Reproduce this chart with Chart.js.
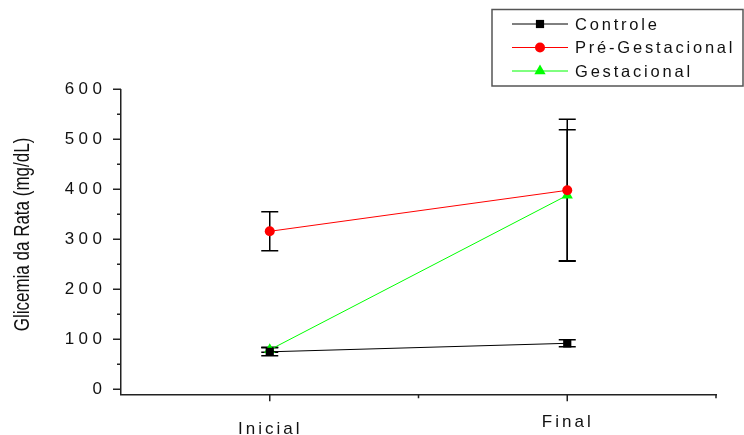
<!DOCTYPE html>
<html>
<head>
<meta charset="utf-8">
<script src="https://cdn.jsdelivr.net/npm/chart.js@4.4.1/dist/chart.umd.min.js"></script>
<style>
  body { margin: 0; background: #fff; }
  canvas { display: block; }
</style>
</head>
<body>
<canvas id="glicemiaChart" width="744" height="435"></canvas>
<script>
// dados
const categorias = ['Inicial', 'Final'];
const controle = [75, 92];
const controleErro = [8, 7];
const preGestacional = [316, 398];
const preGestacionalErro = [39, 142];
const gestacional = [79, 388];
const gestacionalErro = [5, 131];
const yTicks = [0, 100, 200, 300, 400, 500, 600];
const yTitulo = 'Glicemia da Rata (mg/dL)';

const fonte = '"Liberation Sans", Arial, sans-serif';
const erros = [controleErro, preGestacionalErro, gestacionalErro];

function pontos(valores) {
  return valores.map((v, i) => ({ x: i + 1, y: v }));
}

const estiloOrigin = {
  id: 'estiloOrigin',
  beforeDraw(chart) {
    // espaco entre letras dos numeros do eixo y
    chart.ctx.letterSpacing = '4.5px';
  },
  beforeDatasetsDraw(chart) {
    const ctx = chart.ctx;
    const xs = chart.scales.x, ys = chart.scales.y;
    ctx.save();
    ctx.strokeStyle = '#000';
    ctx.lineWidth = 1.5;
    chart.data.datasets.forEach((ds, i) => {
      ds.data.forEach((p, j) => {
        const e = erros[i][j];
        const x = xs.getPixelForValue(p.x);
        const yt = ys.getPixelForValue(p.y + e);
        const yb = ys.getPixelForValue(p.y - e);
        ctx.beginPath();
        ctx.moveTo(x, yt); ctx.lineTo(x, yb);
        ctx.moveTo(x - 8.5, yt); ctx.lineTo(x + 8.5, yt);
        ctx.moveTo(x - 8.5, yb); ctx.lineTo(x + 8.5, yb);
        ctx.stroke();
      });
    });
    ctx.restore();
  },
  afterDraw(chart) {
    const ctx = chart.ctx;
    const xs = chart.scales.x, ys = chart.scales.y;
    const area = chart.chartArea;
    ctx.save();
    ctx.strokeStyle = '#222';
    ctx.lineWidth = 1.5;

    // marcas do eixo y
    ctx.beginPath();
    for (let v = 0; v <= 600; v += 50) {
      const y = ys.getPixelForValue(v);
      const len = v % 100 === 0 ? 8 : 4;
      ctx.moveTo(area.left - len, y); ctx.lineTo(area.left, y);
    }
    // marcas do eixo x
    for (let v = 1; v <= 2.5; v += 0.5) {
      const x = xs.getPixelForValue(v);
      const len = v % 1 === 0 ? 7 : 4;
      ctx.moveTo(x, area.bottom); ctx.lineTo(x, area.bottom + len);
    }
    ctx.stroke();

    // rotulos do eixo x
    ctx.fillStyle = '#111';
    ctx.font = '17px ' + fonte;
    ctx.letterSpacing = '3px';
    ctx.textAlign = 'center';
    ctx.textBaseline = 'alphabetic';
    const baseY = [433.5, 427];
    categorias.forEach((c, i) => {
      ctx.fillText(c, xs.getPixelForValue(i + 1) + 0.5, baseY[i]);
    });

    // titulo do eixo y (esticado como no original)
    ctx.save();
    ctx.letterSpacing = '0px';
    ctx.translate(28.5, 234.5);
    ctx.rotate(-Math.PI / 2);
    ctx.scale(1, 1.3);
    ctx.fillText(yTitulo, 0, 0);
    ctx.restore();

    // legenda
    ctx.strokeStyle = '#555';
    ctx.lineWidth = 1.5;
    ctx.strokeRect(492, 9.5, 251, 76.5);
    const linhas = [24, 47.5, 71];
    ctx.font = '16.5px ' + fonte;
    ctx.letterSpacing = '2.8px';
    ctx.textAlign = 'left';
    ctx.textBaseline = 'middle';
    chart.data.datasets.forEach((ds, i) => {
      const y = linhas[i];
      ctx.strokeStyle = ds.borderColor;
      ctx.lineWidth = 1;
      ctx.beginPath();
      ctx.moveTo(512, y); ctx.lineTo(568, y);
      ctx.stroke();
      ctx.fillStyle = ds.backgroundColor;
      Chart.helpers.drawPoint(ctx, {
        pointStyle: ds.pointStyle, radius: ds.pointRadius, rotation: 0, borderWidth: 0
      }, 540, y);
      ctx.fillStyle = '#111';
      ctx.fillText(ds.label, 575, y + 1);
    });
    ctx.restore();
  }
};

const ctxGlicemia = document.getElementById('glicemiaChart').getContext('2d');

const glicemiaChart = new Chart(ctxGlicemia, {
  type: 'line',
  data: {
    datasets: [{
      label: 'Controle',
      data: pontos(controle),
      borderColor: '#000000',
      backgroundColor: '#000000',
      borderWidth: 1,
      pointStyle: 'rect',
      pointRadius: 5.8,
      pointBorderWidth: 0
    }, {
      label: 'Pré-Gestacional',
      data: pontos(preGestacional),
      borderColor: '#ff0000',
      backgroundColor: '#ff0000',
      borderWidth: 1,
      pointStyle: 'circle',
      pointRadius: 5,
      pointBorderWidth: 0
    }, {
      label: 'Gestacional',
      data: pontos(gestacional),
      borderColor: '#00ff00',
      backgroundColor: '#00ff00',
      borderWidth: 1,
      pointStyle: 'triangle',
      pointRadius: 6.5,
      pointBorderWidth: 0
    }]
  },
  options: {
    responsive: false,
    animation: false,
    layout: {
      padding: { top: 89.3, right: 28, left: 0, bottom: 0 }
    },
    plugins: {
      legend: { display: false },
      tooltip: { enabled: false }
    },
    scales: {
      x: {
        type: 'linear',
        min: 0.5,
        max: 2.5,
        grid: { display: false },
        border: { display: true, color: '#222', width: 1.5 },
        ticks: { display: false },
        afterFit: (scale) => { scale.height = 40.7; }
      },
      y: {
        min: -10,
        max: 600,
        afterBuildTicks: (scale) => {
          scale.ticks = yTicks.map(v => ({ value: v }));
        },
        grid: { display: true, drawOnChartArea: false, drawTicks: false },
        border: { display: true, color: '#222', width: 1.5 },
        ticks: {
          color: '#111',
          padding: 14.5,
          font: { family: fonte, size: 17 }
        },
        afterFit: (scale) => { scale.width = 121; }
      }
    }
  },
  plugins: [estiloOrigin]
});
</script>
</body>
</html>
